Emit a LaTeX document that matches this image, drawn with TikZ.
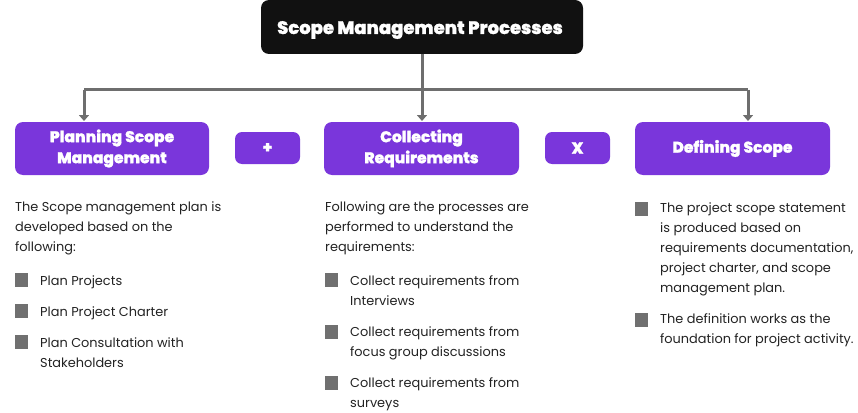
\documentclass[tikz,border=0pt]{standalone}
\usepackage{fontspec}
\setmainfont{Poppins}
\newfontfamily\heavy{Poppins ExtraBold}[FakeBold=1.4]
\usetikzlibrary{arrows.meta}
\definecolor{purp}{RGB}{122,54,219}
\definecolor{conn}{RGB}{110,110,110}
\definecolor{sq}{RGB}{112,112,112}
\definecolor{txt}{RGB}{34,34,34}
\definecolor{ttl}{RGB}{17,17,17}
\tikzset{
  titlebox/.style={fill=ttl, rounded corners=8pt},
  titletext/.style={text=white, anchor=base, font=\heavy\fontsize{18}{20}\selectfont},
  procbox/.style={fill=purp, rounded corners=8pt, text=white, align=center, font=\heavy\fontsize{15.5}{21}\selectfont},
  opbox/.style={fill=purp, rounded corners=7pt, text=white, font=\heavy\fontsize{16}{18}\selectfont},
  conn/.style={draw=conn, line width=3pt},
  arr/.style={conn, -{Triangle[width=10pt,length=6pt]}},
  bulletsq/.style={fill=sq, minimum size=13.5pt, inner sep=0pt},
  body/.style={anchor=base west, inner sep=0pt, text=txt, font=\fontsize{12.9}{20}\selectfont},
}
\newcommand{\bodytext}[2]{\parbox[t]{#1}{\raggedright #2}}
\begin{document}
\begin{tikzpicture}[x=1pt,y=-1pt]
\useasboundingbox (0,0) rectangle (858,412);
% title
\path[titlebox] (261,0) rectangle (583,54);
\node[titletext] (title) at (420,34) {Scope Management Processes};
\coordinate (tb) at (422,54);
% process boxes
\node[procbox, minimum width=194pt, minimum height=53pt, inner sep=0pt] (plan) at (112,148.5) {Planning Scope\\Management};
\node[procbox, minimum width=195pt, minimum height=53pt, inner sep=0pt] (coll) at (421.5,148.5) {Collecting\\Requirements};
\node[procbox, minimum width=195pt, minimum height=53pt, inner sep=0pt] (def) at (732.5,148.5) {Defining Scope};
\node[opbox, minimum width=65pt, minimum height=32pt, inner sep=0pt] (plus) at (267.5,148) {+};
\node[opbox, minimum width=65pt, minimum height=32pt, inner sep=0pt] (times) at (577.5,148) {X};
% connectors
\coordinate (j) at (422,89.5);
\coordinate (jl) at (84,89.5);
\coordinate (jr) at (748,89.5);
\draw[conn] (jl) -- (jr);
\draw[arr] (tb) -- (422,121);
\draw[arr] (jl) -- (84,121);
\draw[arr] (jr) -- (748,121);
% column 1
\node[body] (t1) at (15,211) {\bodytext{215pt}{The Scope management plan is developed based on the following:}};
\node[bulletsq] (b11) at (21.5,280) {};
\node[body] (t11) at (40,285) {Plan Projects};
\node[bulletsq] (b12) at (21.5,311) {};
\node[body] (t12) at (40,316) {Plan Project Charter};
\node[bulletsq] (b13) at (21.5,342) {};
\node[body] (t13) at (40,347) {\bodytext{175pt}{Plan Consultation with Stakeholders}};
% column 2
\node[body] (t2) at (325,211) {\bodytext{222pt}{Following are the processes are performed to understand the requirements:}};
\node[bulletsq] (b21) at (331.5,280) {};
\node[body] (t21) at (350,285) {\bodytext{185pt}{Collect requirements from Interviews}};
\node[bulletsq] (b22) at (331.5,332) {};
\node[body] (t22) at (350,336) {\bodytext{185pt}{Collect requirements from focus group discussions}};
\node[bulletsq] (b23) at (331.5,383) {};
\node[body] (t23) at (350,387) {\bodytext{185pt}{Collect requirements from surveys}};
% column 3
\node[bulletsq] (b31) at (641.5,209) {};
\node[body] (t31) at (660,212) {\bodytext{205pt}{The project scope statement\\ is produced based on\\ requirements documentation,\\ project charter, and scope\\ management plan.}};
\node[bulletsq] (b32) at (641.5,320) {};
\node[body] (t32) at (660,323) {\bodytext{205pt}{The definition works as the\\ foundation for project activity.}};
\end{tikzpicture}
\end{document}
